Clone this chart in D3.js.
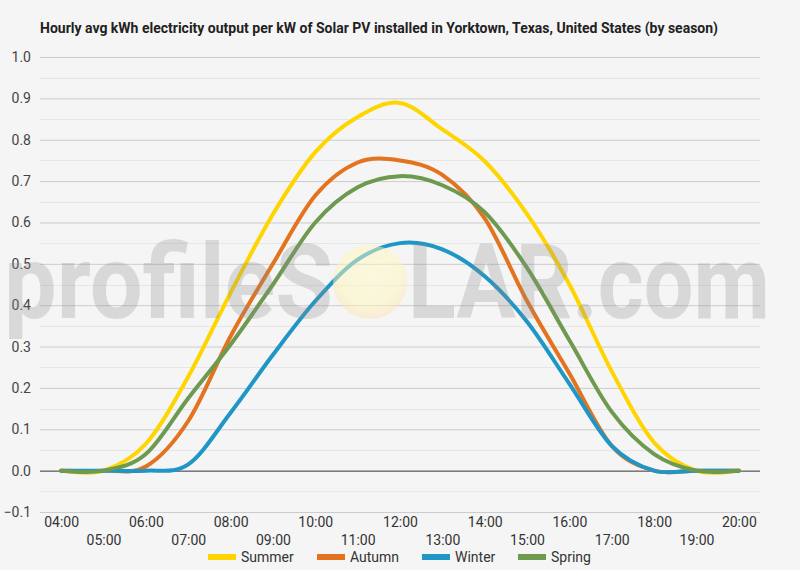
<!DOCTYPE html>
<html>
<head>
<meta charset="utf-8">
<script src="https://cdn.jsdelivr.net/npm/d3@7"></script>
<style>
  body { margin: 0; background: #f5f5f5; }
  svg { display: block; font-family: Roboto, "Noto Sans", sans-serif; }
</style>
</head>
<body>
<div id="chart"></div>
<script>
const hours = ["04:00", "05:00", "06:00", "07:00", "08:00", "09:00", "10:00", "11:00", "12:00",
  "13:00", "14:00", "15:00", "16:00", "17:00", "18:00", "19:00", "20:00"];

const summer = [0, 0, 0.065, 0.227, 0.43, 0.62, 0.77, 0.855, 0.889, 0.825, 0.748, 0.62, 0.45, 0.24, 0.068, 0, 0];
const autumn = [0, 0, 0.01, 0.12, 0.325, 0.5, 0.665, 0.745, 0.75, 0.715, 0.61, 0.41, 0.235, 0.06, 0, 0, 0];
const winter = [0, 0, 0, 0.015, 0.14, 0.28, 0.41, 0.51, 0.55, 0.535, 0.47, 0.36, 0.21, 0.06, 0, 0, 0];
const spring = [0, 0, 0.04, 0.175, 0.305, 0.45, 0.6, 0.685, 0.712, 0.69, 0.625, 0.49, 0.315, 0.142, 0.04, 0, 0];

const seriesNames = ["Summer", "Autumn", "Winter", "Spring"];
const seriesColors = ["#ffd500", "#e3731f", "#1f96c6", "#6e9a50"];
const yTicks = [-0.1, 0, 0.1, 0.2, 0.3, 0.4, 0.5, 0.6, 0.7, 0.8, 0.9, 1.0];

const title = "Hourly avg kWh electricity output per kW of Solar PV installed in Yorktown, Texas, United States (by season)";

const width = 800;
const height = 570;
const margin = {top: 57, right: 40, bottom: 58, left: 40};

const svg = d3.select("#chart")
  .append("svg")
  .attr("width", width)
  .attr("height", height);

svg.append("rect").attr("width", width).attr("height", height).attr("fill", "#f5f5f5");

const x = d3.scalePoint()
  .domain(hours)
  .range([margin.left, width - margin.right])
  .padding(0.5);

const y = d3.scaleLinear()
  .domain([-0.1, 1.0])
  .range([height - margin.bottom, margin.top]);

// title
svg.append("text")
  .attr("x", 40)
  .attr("y", 33)
  .attr("font-size", 14)
  .attr("font-weight", "bold")
  .attr("fill", "#222")
  .text(title);

// minor + major gridlines
const minor = d3.range(-0.05, 1.0, 0.1);
svg.append("g")
  .selectAll("line")
  .data(minor)
  .join("line")
  .attr("x1", margin.left)
  .attr("x2", width - margin.right)
  .attr("y1", d => Math.round(y(d)) + 0.5)
  .attr("y2", d => Math.round(y(d)) + 0.5)
  .attr("stroke", "#e6e6e6");

const yAxis = g => g
  .attr("transform", `translate(${margin.left},0)`)
  .call(d3.axisLeft(y)
    .tickValues(yTicks)
    .tickFormat(d3.format(".1f"))
    .tickSize(-(width - margin.left - margin.right))
    .tickPadding(9))
  .call(g => g.select(".domain").remove())
  .call(g => g.selectAll(".tick line").attr("stroke", d => d === 0 ? "#333" : "#cccccc"))
  .call(g => g.selectAll(".tick text")
    .attr("font-size", 14)
    .attr("fill", "#444")
    .attr("font-family", "Roboto, sans-serif"));

svg.append("g").call(yAxis);

// x labels, alternating rows
const xAxis = g => g
  .attr("transform", `translate(0,${height - margin.bottom})`)
  .call(d3.axisBottom(x).tickSize(0).tickPadding(10))
  .call(g => g.select(".domain").remove())
  .call(g => g.selectAll(".tick text")
    .attr("font-size", 14)
    .attr("fill", "#333")
    .attr("font-family", "Roboto, sans-serif")
    .attr("dy", (d, i) => i % 2 === 0 ? "0.35em" : "1.65em"));

svg.append("g").call(xAxis);

// lines
const line = d3.line()
  .x((d, i) => x(hours[i]))
  .y(d => y(d))
  .curve(d3.curveCardinal.tension(0));

const allSeries = [summer, autumn, winter, spring];
svg.append("g")
  .selectAll("path")
  .data(allSeries)
  .join("path")
  .attr("fill", "none")
  .attr("stroke", (d, i) => seriesColors[i])
  .attr("stroke-width", 4)
  .attr("stroke-linejoin", "round")
  .attr("stroke-linecap", "round")
  .attr("d", line);

// watermark
const defs = svg.append("defs");
const grad = defs.append("radialGradient").attr("id", "sun").attr("cx", "50%").attr("cy", "40%").attr("r", "60%");
grad.append("stop").attr("offset", "0%").attr("stop-color", "#fffbc8");
grad.append("stop").attr("offset", "70%").attr("stop-color", "#fff6b8");
grad.append("stop").attr("offset", "100%").attr("stop-color", "#fbe0b8");

const wm = svg.append("g").attr("pointer-events", "none");
wm.append("text")
  .attr("x", 4)
  .attr("y", 318)
  .attr("font-size", 103)
  .attr("font-weight", "bold")
  .attr("font-family", "Roboto, sans-serif")
  .attr("fill", "#8c8c8c")
  .attr("fill-opacity", 0.28)
  .attr("textLength", 329)
  .attr("lengthAdjust", "spacingAndGlyphs")
  .text("profileS");
wm.append("ellipse")
  .attr("cx", 370)
  .attr("cy", 282)
  .attr("rx", 37)
  .attr("ry", 37)
  .attr("fill", "url(#sun)")
  .attr("fill-opacity", 0.5);
wm.append("text")
  .attr("x", 408)
  .attr("y", 318)
  .attr("font-size", 103)
  .attr("font-weight", "bold")
  .attr("font-family", "Roboto, sans-serif")
  .attr("fill", "#8c8c8c")
  .attr("fill-opacity", 0.28)
  .attr("textLength", 362)
  .attr("lengthAdjust", "spacingAndGlyphs")
  .text("LAR.com");

// legend
const legendX = [208, 317, 422, 518];
const legend = svg.append("g")
  .selectAll("g")
  .data(seriesNames)
  .join("g")
  .attr("transform", (d, i) => `translate(${legendX[i]},557)`);

legend.append("rect")
  .attr("x", 0)
  .attr("y", -3)
  .attr("width", 28)
  .attr("height", 6)
  .attr("fill", (d, i) => seriesColors[i]);

legend.append("text")
  .attr("x", 33)
  .attr("dy", "0.35em")
  .attr("font-size", 14)
  .attr("fill", "#333")
  .text(d => d);
</script>
</body>
</html>
